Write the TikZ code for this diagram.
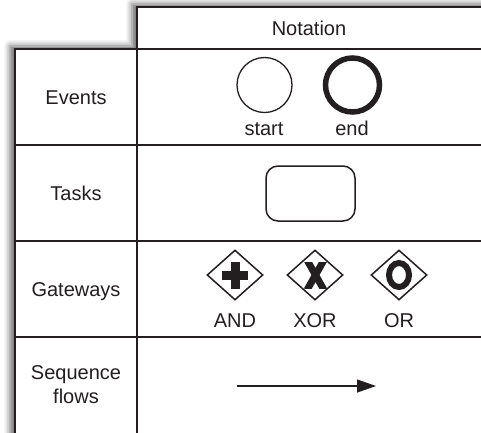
\documentclass[tikz,border=0pt]{standalone}
\usepackage{fontspec}
\setmainfont{Liberation Sans}
\usetikzlibrary{shadows.blur,arrows.meta,shapes.geometric}
\definecolor{ink}{HTML}{231F20}
\begin{document}
\begin{tikzpicture}[x=1pt,y=-1pt,
  txt/.style={text=ink,font=\fontsize{20}{24}\selectfont,inner sep=0pt},
  gridline/.style={draw=ink,line width=1.6pt},
  gate/.style={diamond,draw=ink,line width=1.5pt,minimum width=56pt,minimum height=50pt,inner sep=0pt,fill=white},
  flow/.style={draw=ink,line width=1.2pt,-{Triangle[length=19pt,width=13pt]}}]
\useasboundingbox (0,0) rectangle (481,432);
% table body with shadow
\path[fill=white, blur shadow={shadow xshift=-5pt, shadow yshift=3pt, shadow blur radius=6pt, shadow opacity=60}]
  (15,460) -- (15,49) -- (137,49) -- (137,7) -- (510,7) -- (510,460) -- cycle;
% grid
\draw[gridline] (137,440) -- (137,7) -- (490,7);
\draw[gridline] (15,440) -- (15,49) -- (490,49);
\draw[gridline] (15,145) -- (490,145);
\draw[gridline] (15,241) -- (490,241);
\draw[gridline] (15,337) -- (490,337);
% headings
\node[txt,anchor=base] (hdr) at (309,35) {Notation};
\node[txt,anchor=base] (ev) at (76,104) {Events};
\node[txt,anchor=base] (tk) at (76,200) {Tasks};
\node[txt,anchor=base] (gw) at (76,296) {Gateways};
\node[txt,align=center] (sf) at (76,385) {Sequence\\flows};
% events
\node[circle,draw=ink,line width=1.3pt,minimum size=55pt,inner sep=0pt] (start) at (264.5,85) {};
\node[circle,draw=ink,line width=5.5pt,minimum size=54pt,inner sep=0pt] (end) at (352.5,85) {};
\node[txt,anchor=base] (startl) at (264,135) {start};
\node[txt,anchor=base] (endl) at (352,135) {end};
% task
\node[draw=ink,line width=1.5pt,rounded corners=12pt,minimum width=89pt,minimum height=55pt,inner sep=0pt] (task) at (310.5,193.5) {};
% gateways
\node[gate] (and) at (235,275) {};
\node[gate] (xor) at (315,275) {};
\node[gate] (or) at (399,275) {};
\fill[ink] ([xshift=-13pt,yshift=-4.5pt]and.center) rectangle ([xshift=13pt,yshift=4.5pt]and.center);
\fill[ink] ([xshift=-4.5pt,yshift=-13.5pt]and.center) rectangle ([xshift=4.5pt,yshift=13.5pt]and.center);
\begin{scope}
  \clip (304,262) rectangle (327,288);
  \draw[ink,line width=7pt] (307,260) -- (324,290);
  \draw[ink,line width=7pt] (324,260) -- (307,290);
\end{scope}
\draw[ink,line width=6pt] (or.center) ellipse [x radius=10pt, y radius=12pt];
\node[txt,anchor=base] (andl) at (235,327) {AND};
\node[txt,anchor=base] (xorl) at (315,327) {XOR};
\node[txt,anchor=base] (orl) at (399,327) {OR};
% sequence flow
\coordinate (f0) at (237,386);
\coordinate (f1) at (376,386);
\draw[flow] (f0) -- (f1);
\end{tikzpicture}
\end{document}
